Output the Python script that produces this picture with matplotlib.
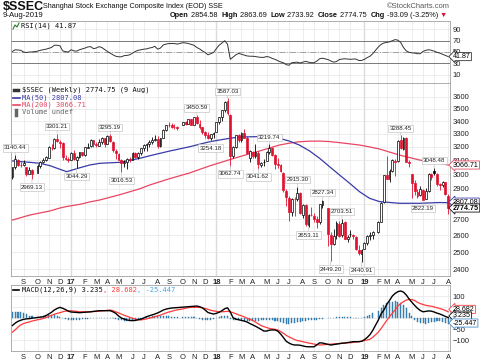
import matplotlib
matplotlib.use("Agg")
import matplotlib.pyplot as plt
import matplotlib.dates as mdates
from matplotlib.lines import Line2D
import pandas as pd

plt.rcParams['font.family'] = ['Liberation Sans', 'DejaVu Sans']

# weekly bars Aug 2016 - Aug 2019 (holiday weeks without trading left out)
weeks = pd.date_range('2016-08-12', '2019-08-09', freq='W-FRI')
weeks = weeks.drop(pd.to_datetime(['2016-10-07', '2017-10-06', '2018-10-05', '2019-02-08']))

opens = [2980, 3050, 3100, 3070, 3066, 3050, 3005, 3030, 3010, 3060, 3090, 3100, 3120, 3195, 3190,
         3260, 3235, 3230, 3120, 3110,
         3105, 3155, 3105, 3125, 3160, 3140, 3195, 3205, 3250, 3220, 3210, 3240, 3265,
         3225, 3285, 3240, 3170, 3150, 3100, 3080, 3090, 3108, 3105, 3155, 3125, 3155,
         3190, 3215, 3220, 3235, 3250, 3260, 3205, 3270, 3330, 3365, 3365, 3355, 3350,
         3370, 3390, 3380, 3415, 3370, 3430, 3380, 3350, 3315, 3290, 3265, 3295,
         3315, 3390, 3430, 3490, 3560, 3450, 3130, 3200, 3290, 3255, 3305, 3270, 3120,
         3165, 3130, 3155, 3070, 3085, 3095, 3165, 3195, 3140, 3075, 3065, 3010, 2885,
         2840, 2745, 2830, 2830, 2870, 2730, 2790, 2665, 2725, 2720, 2700, 2680, 2795,
         2770, 2600, 2550, 2600, 2670, 2600, 2680, 2580, 2610, 2600, 2590, 2510,
         2490, 2520, 2555, 2595, 2600, 2620, 2685, 2810, 2995, 2970, 3025, 3095,
         3095, 3250, 3185, 3270, 3085, 3000, 2940, 2880, 2855, 2895, 2830, 2885, 3000,
         3025, 3005, 2930, 2925, 2945, 2854.58]
highs = [3050, 3140.44, 3110, 3090, 3100, 3055, 3050, 3035, 3075, 3095, 3120, 3130, 3210, 3220, 3265,
         3301.21, 3250, 3235, 3140, 3125,
         3160, 3175, 3130, 3160, 3165, 3200, 3230, 3260, 3255, 3235, 3260, 3275, 3270,
         3287, 3295.19, 3245, 3185, 3155, 3110, 3100, 3120, 3125, 3160, 3160, 3165, 3195,
         3220, 3230, 3250, 3275, 3290, 3280, 3270, 3335, 3370, 3390, 3385, 3375, 3360,
         3395, 3400, 3420, 3420, 3435, 3450.59, 3405, 3355, 3320, 3310, 3300, 3310,
         3395, 3435, 3490, 3565, 3587.03, 3460, 3210, 3290, 3300, 3310, 3335, 3285, 3175,
         3170, 3220, 3170, 3090, 3110, 3170, 3219.74, 3200, 3145, 3115, 3075, 3020, 2900,
         2850, 2840, 2845, 2915.30, 2880, 2800, 2800, 2735, 2780, 2740, 2720, 2800, 2827.34,
         2770, 2620, 2640, 2690, 2690, 2703.51, 2690, 2600, 2635, 2610, 2595, 2540,
         2520, 2560, 2600, 2620, 2625, 2690, 2810, 2995, 3130, 3040, 3110, 3110,
         3250, 3288.45, 3275, 3275, 3100, 3000, 2960, 2900, 2920, 2900, 2905, 3010, 3010,
         3048.48, 3010, 2940, 2955, 2950, 2863.69]
lows = [2968, 3040, 3060, 3050, 3060, 2990, 3000, 2969.13, 3010, 3045, 3080, 3095, 3115, 3180, 3185,
        3240, 3190, 3100, 3100, 3085,
        3100, 3105, 3044.29, 3120, 3130, 3135, 3195, 3200, 3200, 3200, 3205, 3225, 3200,
        3220, 3240, 3160, 3110, 3100, 3016.53, 3050, 3040, 3090, 3100, 3115, 3110, 3140,
        3170, 3170, 3200, 3225, 3245, 3195, 3200, 3265, 3320, 3355, 3345, 3335, 3330,
        3365, 3365, 3375, 3370, 3365, 3380, 3340, 3300, 3270, 3260, 3254.18, 3270,
        3310, 3380, 3400, 3475, 3450, 3062.74, 3120, 3195, 3240, 3240, 3265, 3150, 3090,
        3120, 3120, 3041.62, 3050, 3060, 3095, 3150, 3135, 3040, 3045, 3015, 2875, 2782,
        2691, 2720, 2720, 2815, 2735, 2710, 2660, 2653.11, 2720, 2680, 2644, 2670, 2775,
        2536, 2449.20, 2540, 2580, 2590, 2590, 2575, 2560, 2590, 2575, 2510, 2480,
        2440.91, 2515, 2540, 2570, 2575, 2615, 2680, 2805, 2965, 2950, 3020, 2990,
        3090, 3185, 3180, 3085, 3055, 2838, 2860, 2835, 2850, 2822.19, 2830, 2880, 2960,
        2995, 2920, 2890, 2910, 2860, 2733.92]
closes = [3050, 3108, 3070, 3067, 3078, 3002, 3033, 3004, 3063, 3090, 3104, 3125, 3196, 3192, 3262,
          3243, 3232, 3122, 3110, 3103,
          3154, 3112, 3123, 3159, 3140, 3196, 3202, 3253, 3218, 3212, 3237, 3269, 3222,
          3286, 3246, 3173, 3154, 3103, 3083, 3090, 3110, 3105, 3158, 3123, 3157, 3192,
          3217, 3222, 3237, 3253, 3262, 3208, 3268, 3331, 3367, 3365, 3353, 3352, 3348,
          3390, 3378, 3416, 3371, 3432, 3382, 3353, 3317, 3289, 3266, 3297, 3307,
          3391, 3429, 3487, 3558, 3462, 3129, 3199, 3289, 3254, 3307, 3269, 3152, 3169,
          3131, 3159, 3071, 3082, 3091, 3163, 3193, 3141, 3075, 3067, 3022, 2889, 2847,
          2747, 2831, 2829, 2873, 2740, 2795, 2669, 2730, 2725, 2702, 2681, 2797, 2821,
          2606, 2550, 2598, 2676, 2598, 2679, 2579, 2588, 2605, 2594, 2516, 2494,
          2514, 2553, 2596, 2601, 2618, 2682, 2804, 2994, 2969, 3022, 3104, 3090,
          3247, 3189, 3271, 3086, 3078, 2939, 2882, 2853, 2899, 2828, 2882, 3001, 2979,
          3011, 2930, 2924, 2944, 2868, 2774.75]

ma_dates = ['2016-08-08', '2016-09-21', '2016-10-16', '2016-11-10', '2016-12-05', '2016-12-22',
            '2017-01-24', '2017-02-18', '2017-03-15', '2017-05-04', '2017-06-23', '2017-07-18',
            '2017-09-06', '2017-10-26', '2017-12-15', '2018-02-03', '2018-02-28', '2018-04-19',
            '2018-06-08', '2018-07-03', '2018-07-28', '2018-08-23', '2018-09-17', '2018-10-12',
            '2018-11-06', '2018-12-01', '2018-12-26', '2019-01-20', '2019-02-14', '2019-04-05',
            '2019-05-25', '2019-07-14', '2019-08-05']
ma50 = [3096, 3086, 3079, 3062, 3036, 3019, 3047, 3067, 3079, 3086, 3115, 3134, 3169, 3201, 3239,
        3265, 3275, 3278, 3265, 3244, 3214, 3169, 3115, 3054, 2995, 2938, 2880, 2836, 2814, 2803,
        2803, 2808, 2807.08]
ma200 = [2695, 2727, 2740, 2753, 2772, 2782, 2796, 2812, 2825, 2860, 2900, 2926, 2970, 3010, 3060,
         3105, 3127, 3169, 3214, 3228, 3239, 3243, 3244, 3240, 3232, 3223, 3214, 3200, 3184, 3139,
         3103, 3079, 3066.71]

rsi = [51, 54, 53.5, 53, 50, 49, 50, 50, 51.5, 53, 54, 55, 56.5, 58, 62, 62, 61, 52, 50.5, 50,
       54, 52, 51.5, 54, 55.5, 57, 59, 59.5, 56, 57, 59.5, 58, 54.5, 51, 48, 45, 42.5, 41.5, 41.5,
       43.5, 44, 45, 48, 51, 53, 54, 55, 55.5, 57, 58, 60, 55, 57, 62.5, 64, 65, 65, 65, 64, 66.5,
       66, 65, 63.5, 62, 58, 55.5, 52, 49, 45, 47, 49,
       56, 62, 66, 70, 64, 37, 41, 45, 47.5, 46, 44.5, 43, 42.5, 42.5, 42, 41, 40.5, 40.5, 42, 41,
       38.5, 37, 34.5, 32.5, 31, 27.5, 26.5, 31, 31.5, 32, 30.5, 32, 33.5, 32, 31, 31, 34, 38, 39,
       36.5, 34, 32, 33, 36.5, 37.5, 38, 37.5, 37, 37.5, 37.5, 35,
       35, 37, 40, 42.5, 47, 59, 63.5, 66, 67, 68, 70, 72, 71, 67, 58, 52, 49.5, 48.5, 48, 47, 47,
       51, 53, 54, 53, 51.5, 49.5, 48, 46, 44, 41.87]

macd = [-33, -22, -14, -9, -5, -3, -2, 0, 3, 5, 7, 12, 19, 27, 37, 44, 49, 45, 39, 32,
        28, 27, 26, 25, 26, 27, 28, 29, 31, 32, 34, 34, 34, 34, 34, 29, 22, 10, 1, -4,
        -8, -10, -11, -10, -7, -4, 1, 7, 11, 15, 19, 24, 30, 37, 41, 44, 46, 47, 48, 50,
        51, 52, 53, 54, 55, 52, 47, 37, 26, 22, 19,
        22, 27, 34, 43, 47, 28, 2, -4, -7, -10, -13, -17, -24, -30, -36, -43, -50, -58, -58, -54,
        -53, -53, -58, -71, -87, -104, -112, -118, -121, -121, -122, -125, -128, -129, -129, -129,
        -120, -111, -112, -118, -121, -119, -117, -115, -113, -112, -110, -108, -106, -106, -106,
        -104, -97, -87, -74, -55, -8, 20, 37, 62, 80, 100, 112, 120, 123, 118, 105, 87, 72, 58, 45,
        35, 29, 31, 33, 32, 28, 23, 19, 14, 8, 3.235]
signal = [-63, -52, -40, -30, -24, -20, -17, -13, -7, -5, -1, 3, 8, 13, 18, 22, 25, 29, 32, 33,
          34, 32, 31, 29, 29, 29, 29, 29, 30, 31, 32, 33, 34, 36, 37, 34, 29, 24, 19, 13,
          9, 4, 0, -4, -7, -8, -5, -3, 0, 3, 7, 11, 14, 19, 24, 28, 31, 35, 38, 42,
          45, 48, 49, 49, 49, 49, 47, 44, 40, 36, 33,
          31, 29, 29, 30, 31, 29, 25, 20, 15, 11, 6, 0, -5, -10, -17, -25, -33, -38, -42, -46,
          -48, -50, -53, -60, -68, -77, -84, -90, -96, -101, -103, -106, -109, -112, -114, -117,
          -119, -121, -120, -118, -117, -116, -115, -114, -113, -112, -111, -111, -109, -107, -106,
          -104, -101, -98, -95, -86, -63, -46, -28, -10, 7, 22, 38, 55, 66, 75, 82, 85, 84, 80, 72,
          66, 62, 58, 56, 54, 51, 47, 44, 40, 35, 28.682]
hist = [30, 30, 29, 27, 24, 18, 12, 8, 6, 7, 9, 11, 13, 15, 14, 10, 5, 0, -4, -6,
        -7, -8, -7, -6, -5, -3, -2, -1, 0, 1, 1, 2, 2, 2, 2, 0, -3, -6, -9, -12, -13,
        -12, -10, -8, -5, -2, 1, 4, 6, 8, 9, 10, 10, 9, 9, 8, 7, 6, 6, 5, 5, 6,
        6, 4, 1, -3, -6, -8, -9, -8, -5,
        0, 5, 9, 12, 8, -2, -6, -8, -9, -10, -11, -12, -12, -12, -12, -11, -10, -8, -6, -6, -8,
        -11, -14, -17, -21, -24, -25, -23, -20, -17, -15, -13, -11, -10, -9, -7, -6, -4, -2,
        -1, 1, 3, 4, 5, 5, 5, 4, 4, 3, 2, 2,
        3, 6, 10, 15, 22, 32, 45, 58, 67, 72, 75, 76, 74, 68, 58, 45, 25, 8, -6, -15, -20,
        -23, -24, -22, -18, -15, -13, -13, -16, -21, -25.447]

label_dates = ['2016-08-19', '2016-09-30', '2016-12-02', '2017-01-20', '2017-04-14', '2017-05-12',
               '2017-11-17', '2017-12-22', '2018-02-02', '2018-02-09', '2018-04-20', '2018-05-18',
               '2018-07-27', '2018-08-24', '2018-09-28', '2018-10-19', '2018-11-16', '2019-01-04',
               '2019-04-12', '2019-06-07', '2019-07-05']
label_values = [3140.44, 2969.13, 3301.21, 3044.29, 3295.19, 3016.53, 3450.59, 3254.18, 3587.03,
                3062.74, 3041.62, 3219.74, 2915.30, 2653.11, 2827.34, 2449.20, 2703.51, 2440.91,
                3288.45, 2822.19, 3048.48]
label_kinds = ['high', 'low', 'high', 'low', 'high', 'low', 'high', 'low', 'high', 'low', 'low',
               'high', 'high', 'low', 'high', 'low', 'high', 'low', 'high', 'low', 'high']

price_ticks = [2400, 2500, 2600, 2700, 2800, 2900, 3000, 3100, 3200, 3300, 3400, 3500, 3600]

# ------------------------------------------------------------------
W, H = 480, 363
fig = plt.figure(figsize=(W / 100, H / 100), dpi=100)

red_c = '#e0102f'
ma50_c = '#3a3aa8'
ma200_c = '#e84662'
sig_c = '#ff3a3a'
hist_c = '#3d8cc4'
grid_c = '#e6e6e6'

x = mdates.date2num(weeks - pd.Timedelta(days=4))
xmin = mdates.date2num(pd.Timestamp('2016-08-04 10:00'))
xmax = mdates.date2num(pd.Timestamp('2019-08-09 14:00'))

months = pd.date_range('2016-09-01', '2019-08-01', freq='MS')
month_x = []
month_lab = []
for m in months:
    month_x.append(x[(weeks - pd.Timedelta(days=4)) >= m][0])
    month_lab.append('%02d' % (m.year % 100) if m.month == 1 else 'JFMAMJJASOND'[m.month - 1])


def panel(top, bottom):
    a = fig.add_axes([11 / W, 1 - bottom / H, 439 / W, (bottom - top) / H])
    for s in a.spines.values():
        s.set_color('#a0a0a0')
        s.set_linewidth(0.6)
    a.yaxis.tick_right()
    a.tick_params(axis='both', length=0, labelsize=5.5, colors='#222222', pad=2)
    a.set_xlim(xmin, xmax)
    a.set_xticks(month_x)
    a.set_xticklabels(month_lab)
    for t in a.get_xticklabels():
        if t.get_text().isdigit():
            t.set_fontweight('bold')
    a.grid(True, color=grid_c, lw=0.5)
    for mx, lab in zip(month_x, month_lab):
        if lab.isdigit():
            a.axvline(mx, color='#c4c4c4', lw=0.9, zorder=0.5)
    a.set_axisbelow(True)
    return a


ax_rsi = panel(21, 83)
ax = panel(83, 276)
ax_m = panel(285, 351)
ax_rsi.tick_params(axis='x', labelbottom=False)


def tag(a, yv, text, ec, bold=False, dy=0):
    a.annotate(text, xy=(1, yv), xycoords=('axes fraction', 'data'), xytext=(2.2, dy),
               textcoords='offset points', ha='left', va='center', fontsize=5.1,
               fontweight='bold' if bold else 'normal',
               bbox=dict(boxstyle='larrow,pad=0.08', fc='white', ec=ec, lw=0.6),
               annotation_clip=False, zorder=10)


def chain(a, px, py, parts, size, family='Liberation Sans'):
    t = None
    for s, c, w in parts:
        if t is None:
            t = a.annotate(s, xy=(px / W, 1 - py / H), xycoords='figure fraction', ha='left',
                           va='center', fontsize=size, color=c, fontweight=w, family=family,
                           annotation_clip=False)
        else:
            t = a.annotate(s, xy=(1, 0), xycoords=t, ha='left', va='bottom', fontsize=size,
                           color=c, fontweight=w, family=family, annotation_clip=False)
    return t


# ---- RSI panel
ax_rsi.set_ylim(-5, 105)
ax_rsi.set_yticks([10, 30, 50, 70, 90])
ax_rsi.axhline(70, color='#7a7a7a', lw=0.7)
ax_rsi.axhline(30, color='#7a7a7a', lw=0.7)
ax_rsi.axhline(50, color='#a0a0a0', lw=0.7, ls='-.')
ax_rsi.plot(x, rsi, color='#333333', lw=0.7)
tag(ax_rsi, rsi[-1], '41.87', '#333333')
chain(ax_rsi, 21, 26, [('RSI(14) 41.87', '#111111', 'normal')], 5.0, 'DejaVu Sans Mono')
fig.add_artist(Line2D([13 / W, 15 / W, 17 / W, 19 / W], [1 - 29 / H, 1 - 25 / H, 1 - 27 / H, 1 - 23 / H],
                      color='#2a7a2a', lw=0.8))

# ---- price panel
ax.set_yscale('log')
ax.set_ylim(2363, 3718)
ax.set_yticks(price_ticks)
ax.set_yticklabels([str(v) for v in price_ticks])
ax.minorticks_off()

ma_x = mdates.date2num(pd.to_datetime(ma_dates))
ax.plot(ma_x, ma200, color=ma200_c, lw=0.9, zorder=2)
ax.plot(ma_x, ma50, color=ma50_c, lw=0.9, zorder=2)

edge = []
face = []
for i in range(len(closes)):
    prev = closes[i - 1] if i > 0 else opens[i]
    col = red_c if closes[i] < prev else 'black'
    edge.append(col)
    face.append(col if closes[i] < opens[i] else 'white')
bottoms = [min(o, c) for o, c in zip(opens, closes)]
heights = [max(abs(c - o), 2) for o, c in zip(opens, closes)]
ax.vlines(x, lows, highs, colors=edge, lw=0.6, zorder=3)
ax.bar(x, heights, bottom=bottoms, width=4.6, color=face, edgecolor=edge, lw=0.5, zorder=4)

for d, v, k in zip(label_dates, label_values, label_kinds):
    xi = x[weeks.get_loc(pd.Timestamp(d))]
    dy = 5.0 if k == 'high' else -6.0
    ax.annotate('%.2f' % v, xy=(xi, v), xytext=(0, dy), textcoords='offset points',
                ha='center', va='center', fontsize=4.4, color='#222222',
                bbox=dict(boxstyle='square,pad=0.2', fc='white', ec='#b8b8b8', lw=0.4),
                arrowprops=dict(arrowstyle='-', color='#b8b8b8', lw=0.4, shrinkA=0, shrinkB=0),
                zorder=6, annotation_clip=False)

tag(ax, ma200[-1], '3066.71', ma200_c)
tag(ax, ma50[-1], '2807.08', ma50_c, dy=0.4)
tag(ax, closes[-1], '2774.75', '#111111', bold=True, dy=-0.3)

chain(ax, 22, 90, [('$SSEC (Weekly) 2774.75 (9 Aug)', '#111111', 'normal')], 5.0, 'DejaVu Sans Mono')
fig.add_artist(Line2D([14 / W, 18 / W], [1 - 90 / H, 1 - 90 / H], color='#333333', lw=2.5))
chain(ax, 22, 97.7, [('MA(50) 2807.08', ma50_c, 'normal')], 5.0, 'DejaVu Sans Mono')
fig.add_artist(Line2D([13 / W, 20 / W], [1 - 97.7 / H, 1 - 97.7 / H], color=ma50_c, lw=1.2))
chain(ax, 22, 105, [('MA(200) 3066.71', ma200_c, 'normal')], 5.0, 'DejaVu Sans Mono')
fig.add_artist(Line2D([13 / W, 20 / W], [1 - 105 / H, 1 - 105 / H], color=ma200_c, lw=1.2))
chain(ax, 22, 112.3, [('Volume undef', '#666666', 'normal')], 5.0, 'DejaVu Sans Mono')
fig.add_artist(Line2D([16 / W, 16 / W], [1 - 115 / H, 1 - 109.5 / H], color='#666666', lw=2.5))

# ---- MACD panel
ax_m.set_ylim(-148, 150)
ax_m.set_yticks([-100, -50, 0, 50, 100])
ax_m.bar(x, hist, width=2.6, color=hist_c, edgecolor='#2a6e9e', lw=0.3, zorder=2)
ax_m.plot(x, signal, color=sig_c, lw=0.9, zorder=3)
ax_m.plot(x, macd, color='black', lw=1.0, zorder=4)
tag(ax_m, 28.682, '28.682', sig_c, dy=1.8)
tag(ax_m, 3.235, '3.235', '#111111', dy=1.1)
tag(ax_m, -25.447, '-25.447', '#4a90d0', dy=0.6)
chain(ax_m, 22, 289.5, [('MACD(12,26,9) 3.235', '#111111', 'normal'), (', 28.682', sig_c, 'normal'),
                        (', -25.447', '#40a8e0', 'normal')], 5.0, 'DejaVu Sans Mono')
fig.add_artist(Line2D([13 / W, 19 / W], [1 - 289.5 / H, 1 - 289.5 / H], color='black', lw=1.2))

# ---- header
fig.text(3 / W, 1 - 6.5 / H, '$SSEC', fontsize=9, fontweight='bold', va='center', color='#111111')
fig.text(43 / W, 1 - 6.5 / H, 'Shanghai Stock Exchange Composite Index (EOD) SSE', fontsize=5.2,
         va='center', color='#111111')
fig.text(450 / W, 1 - 6 / H, '\u00a9StockCharts.com', fontsize=5.4, va='center', ha='right',
         color='#555555')
fig.text(3 / W, 1 - 15.5 / H, '9-Aug-2019', fontsize=5.6, va='center', color='#111111')
chain(ax, 170, 15.5, [('Open', '#111111', 'bold'), (' 2854.58  ', '#111111', 'normal'),
                      ('High', '#111111', 'bold'), (' 2863.69  ', '#111111', 'normal'),
                      ('Low', '#111111', 'bold'), (' 2733.92  ', '#111111', 'normal'),
                      ('Close', '#111111', 'bold'), (' 2774.75  ', '#111111', 'normal'),
                      ('Chg', '#111111', 'bold'), (' -93.09 (-3.25%) ', '#111111', 'normal'),
                      ('\u25bc', red_c, 'normal')], 5.3)

fig.savefig('out.png', dpi=100)
